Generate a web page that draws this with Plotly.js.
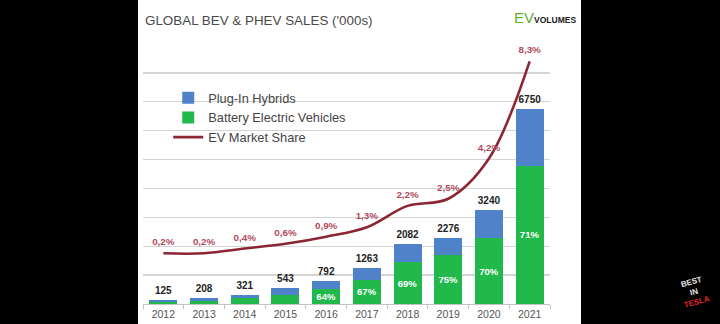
<!DOCTYPE html>
<html>
<head>
<meta charset="utf-8">
<script src="https://cdn.plot.ly/plotly-3.0.1.min.js"></script>
<style>
  html, body { margin: 0; padding: 0; background: #000; width: 720px; height: 324px; overflow: hidden; }
  #panel { position: absolute; left: 138px; top: 0; width: 443px; height: 324px; background: #fff; }
  #chart { position: absolute; left: 0; top: 0; width: 720px; height: 324px; }
</style>
</head>
<body>
<div id="panel"></div>
<div id="chart"></div>
<script>
// ---- data ----
const years = ['2012','2013','2014','2015','2016','2017','2018','2019','2020','2021'];
const totals = [125, 208, 321, 543, 792, 1263, 2082, 2276, 3240, 6750];
const bevSales = [69, 114, 193, 310, 507, 846, 1437, 1707, 2268, 4793];
const phevSales = [56, 94, 128, 233, 285, 417, 645, 569, 972, 1957];
const bevShareLabels = ['', '', '', '', '64%', '67%', '69%', '75%', '70%', '71%'];
const marketShare = [0.2, 0.2, 0.4, 0.6, 0.9, 1.3, 2.2, 2.5, 4.2, 8.3];
const marketShareLabels = ['0,2%', '0,2%', '0,4%', '0,6%', '0,9%', '1,3%', '2,2%', '2,5%', '4,2%', '8,3%'];

const FONT = 'Liberation Sans, Arial, sans-serif';
const BLUE = '#4f82c9';
const GREEN = '#21b84c';
const RED = '#8c2634';

const traces = [
  {
    type: 'bar', name: 'Battery Electric Vehicles', x: years, y: bevSales,
    marker: { color: GREEN }, legendrank: 2,
    text: bevShareLabels, textposition: 'inside', insidetextanchor: 'middle',
    constraintext: 'none',
    textfont: { family: FONT, size: 9.5, color: '#ffffff', weight: 'bold' },
    hoverinfo: 'skip'
  },
  {
    type: 'bar', name: 'Plug-In Hybrids', x: years, y: phevSales,
    marker: { color: BLUE }, legendrank: 1, hoverinfo: 'skip'
  },
  {
    type: 'scatter', mode: 'markers+text', x: years, y: totals,
    marker: { size: 4, opacity: 0 },
    text: totals.map(String), textposition: 'top center',
    textfont: { family: FONT, size: 10, color: '#222', weight: 'bold' },
    showlegend: false, hoverinfo: 'skip', cliponaxis: false
  },
  {
    type: 'scatter', mode: 'lines', name: 'EV Market Share', x: years, y: marketShare,
    yaxis: 'y2', legendrank: 3,
    line: { color: RED, width: 2.6, shape: 'spline', smoothing: 1 },
    hoverinfo: 'skip', cliponaxis: false
  },
  {
    type: 'scatter', mode: 'markers+text', x: years, y: marketShare,
    yaxis: 'y2', showlegend: false,
    marker: { size: 7, opacity: 0, color: RED },
    text: marketShareLabels, textposition: 'top center',
    textfont: { family: FONT, size: 9.8, color: '#b04a5c', weight: 'bold' },
    hoverinfo: 'skip', cliponaxis: false
  }
];

const layout = {
  width: 720, height: 324,
  margin: { l: 142.6, r: 170.4, t: 44, b: 20, pad: 0 },
  paper_bgcolor: 'rgba(0,0,0,0)', plot_bgcolor: 'rgba(0,0,0,0)',
  font: { family: FONT, color: '#555' },
  barmode: 'stack', bargap: 0.31,
  showlegend: true,
  title: {
    text: "GLOBAL BEV &amp; PHEV SALES ('000s)",
    x: 0.2014, xanchor: 'left', xref: 'container',
    y: 0.938, yanchor: 'middle', yref: 'container',
    font: { family: FONT, size: 13.4, color: '#4a4a4a' }
  },
  xaxis: {
    type: 'category', range: [-0.5, 9.5], autorange: false,
    showgrid: false, showline: true, linecolor: '#c4c4c4', linewidth: 1,
    ticks: 'outside', tickson: 'boundaries', ticklen: 4, tickcolor: '#c4c4c4',
    tickfont: { family: FONT, size: 10.5, color: '#555' }, fixedrange: true
  },
  yaxis: {
    range: [0, 9000], dtick: 1000, showticklabels: false, zeroline: false,
    gridcolor: '#d4d4d4', gridwidth: 1.3, fixedrange: true
  },
  yaxis2: {
    range: [-1.94, 9.03], overlaying: 'y', side: 'right', showgrid: false,
    showticklabels: false, zeroline: false, fixedrange: true
  },
  legend: {
    x: 0.062, xanchor: 'left', y: 0.85, yanchor: 'top', traceorder: 'normal',
    bgcolor: 'rgba(0,0,0,0)', font: { family: FONT, size: 12.8, color: '#444' },
    itemwidth: 30
  },
  annotations: [
    {
      xref: 'paper', yref: 'paper', x: 1.07, y: 1.1, xanchor: 'right', yanchor: 'middle',
      showarrow: false,
      text: "<span style='color:#62b030;font-size:15px'>EV</span><b style='font-size:8.5px;color:#222'>VOLUMES</b>",
      font: { family: FONT, size: 12 }
    },
    {
      xref: 'paper', yref: 'paper', x: 1.355, y: 0.045, xanchor: 'center', yanchor: 'middle',
      showarrow: false, textangle: -15,
      text: "<b>BEST<br>IN<br><span style='color:#e0262a'>TESLA</span></b>",
      font: { family: FONT, size: 8, color: '#e8e8e8' }
    }
  ]
};

Plotly.newPlot('chart', traces, layout, { staticPlot: true, displayModeBar: false });
</script>
</body>
</html>
